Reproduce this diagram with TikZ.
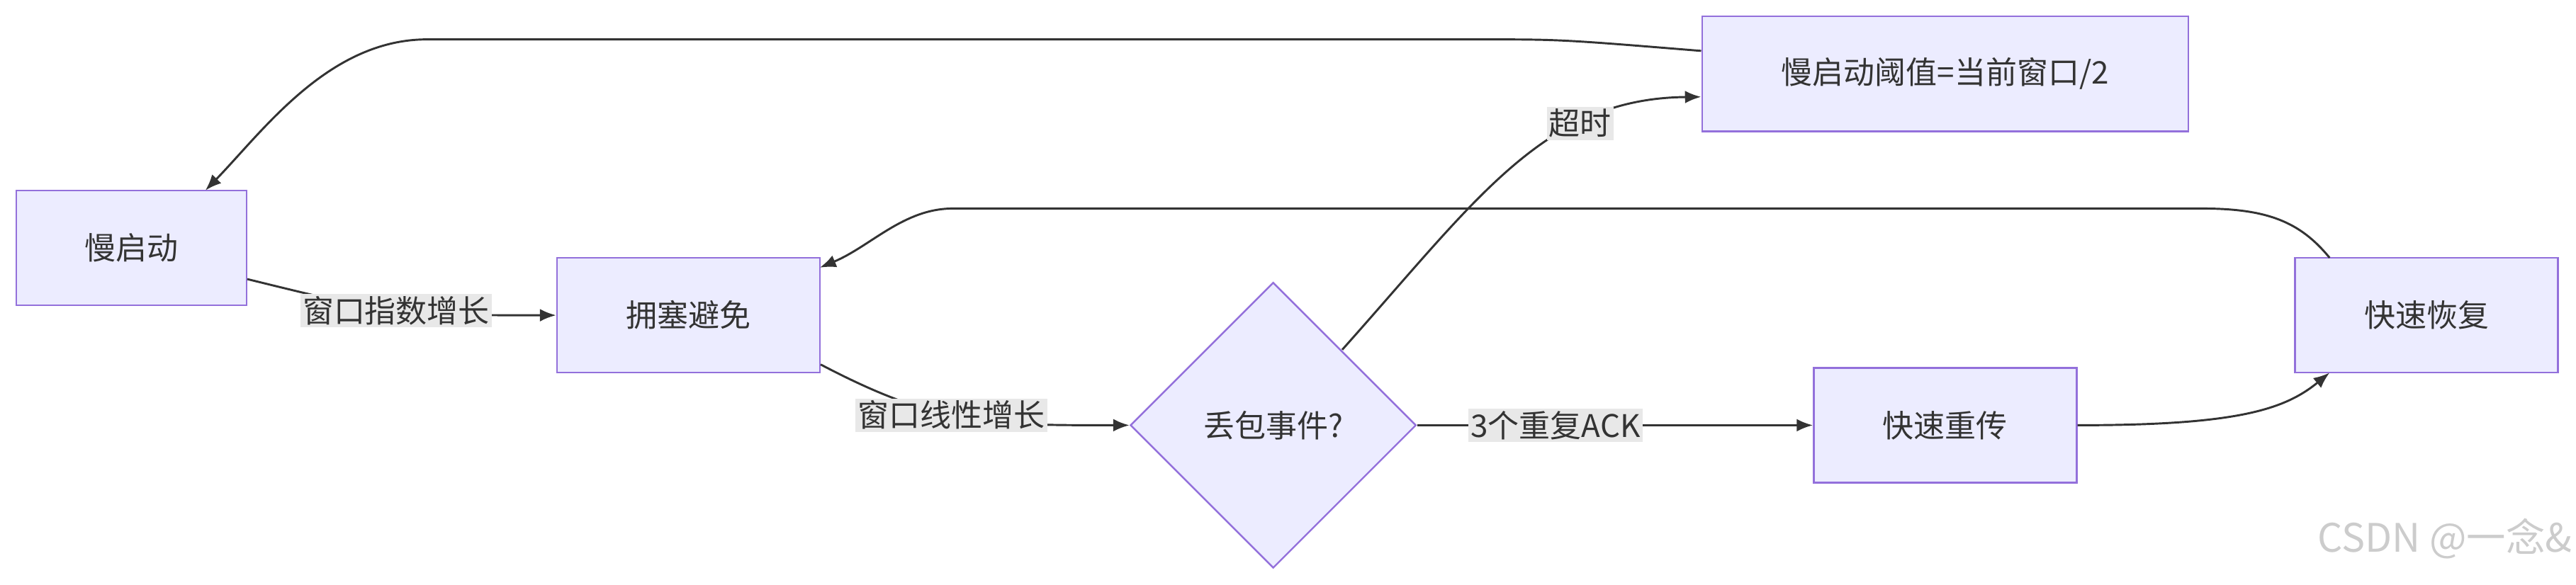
\documentclass[tikz,border=0pt]{standalone}
\usepackage{fontspec}
\setmainfont{Noto Sans CJK SC}
\usetikzlibrary{shapes.geometric,arrows.meta}
\definecolor{nfill}{HTML}{ECECFF}
\definecolor{nline}{HTML}{9370DB}
\definecolor{lbg}{HTML}{E8E8E8}
\definecolor{edge}{HTML}{333333}
\begin{document}
\begin{tikzpicture}[x=0.05cm,y=-0.05cm,
  box/.style={draw=nline,fill=nfill,line width=1.5pt,minimum width=8cm,minimum height=3.5cm,inner sep=0pt,font=\fontsize{27}{31}\selectfont,text=edge},
  dia/.style={draw=nline,fill=nfill,line width=1.5pt,diamond,minimum width=8.7cm,minimum height=8.7cm,inner sep=0pt,font=\fontsize{27}{31}\selectfont,text=edge},
  lab/.style={fill=lbg,inner sep=2pt,font=\fontsize{27}{31}\selectfont,text=edge},
  arr/.style={draw=edge,line width=1.8pt,-{Latex[length=14pt,width=11pt]}}]
\useasboundingbox (0,0) rectangle (1568,356);
\node[box,minimum width=7cm] (ss) at (80,151) {慢启动};
\node[box] (ca) at (419,192) {拥塞避免};
\node[dia] (loss) at (775,259) {丢包事件?};
\node[box,minimum width=14.8cm] (th) at (1184,45) {慢启动阈值=当前窗口/2};
\node[box] (fr) at (1184,259) {快速重传};
\node[box] (rec) at (1477,192) {快速恢复};
\node[text=gray!40,font=\fontsize{34}{38}\selectfont,anchor=east] (wm) at (1568,328) {CSDN @一念\&};

\draw[arr] (ss.east|-0,170) .. controls (240,192) .. (ca.west) node[lab,pos=0.5] {窗口指数增长};
\draw[arr] (ca.east|-0,222) .. controls (570,259) and (600,259) .. (loss.west) node[lab,pos=0.45] {窗口线性增长};
\draw[arr] (817,213) .. controls (900,120) and (940,60) .. (th.west|-0,59) node[lab,pos=0.7] {超时};
\draw[arr] (loss.east) -- (fr.west) node[lab,pos=0.35] {3个重复ACK};
\draw[arr] (fr.east) .. controls (1360,259) and (1390,250) .. (1418,227);
\draw[arr] (1418,157) .. controls (1400,135) and (1380,127) .. (1340,127) -- (580,127) .. controls (550,127) and (530,150) .. (499,163);
\draw[arr] (th.west|-0,31) .. controls (950,24) .. (900,24) -- (260,24) .. controls (200,24) and (160,80) .. (125,116);
\end{tikzpicture}
\end{document}
